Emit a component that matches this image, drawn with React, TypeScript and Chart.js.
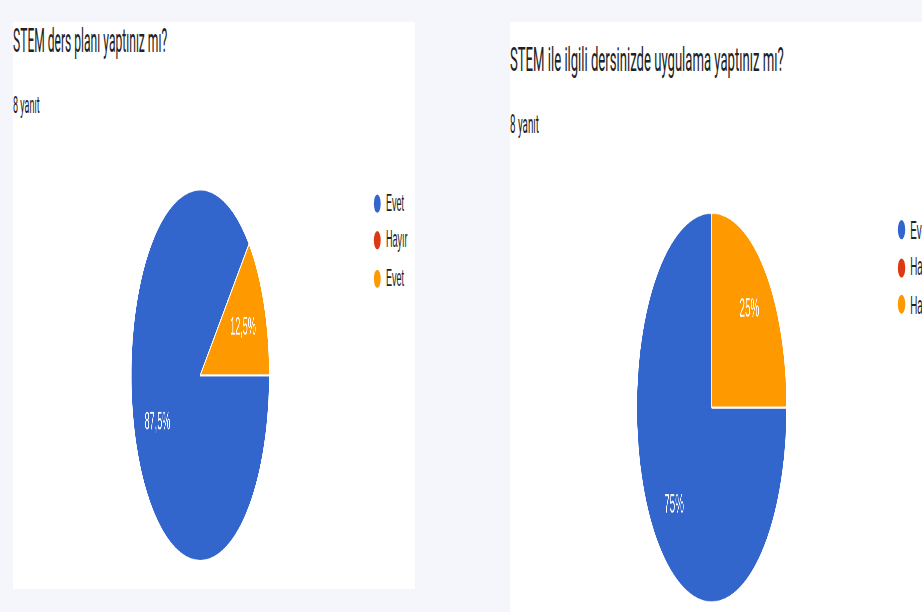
import React, { useEffect, useRef } from "react";
import { Chart, registerables } from "chart.js";

Chart.register(...registerables);

// ---- data ----
const leftTitle = "STEM ders planı yaptınız mı?";
const leftCount = "8 yanıt";
const leftLabels = ["Evet", "Hayır", "Evet"];
const leftValues = [7, 0, 1];

const rightTitle = "STEM ile ilgili dersinizde uygulama yaptınız mı?";
const rightCount = "8 yanıt";
const rightLabels = ["Evet", "Hayır", "Hayır"];
const rightValues = [6, 0, 2];

const sliceColors = ["#3366cc", "#dc3912", "#ff9900"];

const pieLabelPlugin = {
  id: "pieLabels",
  afterDatasetsDraw(chart: any, _args: any, opts: any) {
    const meta = chart.getDatasetMeta(0);
    const data = chart.data.datasets[0].data as number[];
    const total = data.reduce((a, b) => a + b, 0);
    const ctx = chart.ctx;
    ctx.save();
    ctx.font = '12px "Liberation Sans", Arial, sans-serif';
    ctx.fillStyle = "#ffffff";
    ctx.textAlign = "center";
    ctx.textBaseline = "middle";
    meta.data.forEach((arc: any, i: number) => {
      const v = data[i];
      if (!v) return;
      const p = arc.getProps(["x", "y", "startAngle", "endAngle", "outerRadius"], true);
      const mid = (p.startAngle + p.endAngle) / 2;
      const r = p.outerRadius * (opts.factor ?? 0.67);
      const pct = Math.round((v / total) * 1000) / 10;
      const txt = String(pct).replace(".", ",") + "%";
      ctx.fillText(txt, p.x + Math.cos(mid) * r, p.y + Math.sin(mid) * r);
    });
    ctx.restore();
  },
};

type PanelProps = {
  title: string;
  count: string;
  labels: string[];
  values: number[];
  left: number;
  top: number;
  width: number;
  height: number;
  sx: number;
  sy: number;
  cx: number;
  cy: number;
  titleTop: number;
  countTop: number;
  legendDotX: number;
  legendTextX: number;
  legendY: number[];
  labelFactor: number;
};

function PiePanel(p: PanelProps) {
  const ref = useRef<HTMLCanvasElement | null>(null);
  useEffect(() => {
    if (!ref.current) return;
    const chart = new Chart(ref.current, {
      type: "pie",
      data: {
        labels: p.labels,
        datasets: [
          {
            data: p.values,
            backgroundColor: sliceColors,
            borderColor: "#ffffff",
            borderWidth: 1,
            hoverOffset: 0,
            offset: 0,
          },
        ],
      },
      options: {
        responsive: false,
        animation: false,
        devicePixelRatio: 3,
        rotation: 90,
        layout: { padding: 8 },
        plugins: {
          legend: { display: false },
          tooltip: { enabled: false },
          pieLabels: { factor: p.labelFactor },
        } as any,
      },
      plugins: [pieLabelPlugin],
    });
    return () => chart.destroy();
  }, []);

  const textFont = '"Liberation Sans", Arial, sans-serif';
  return (
    <div
      style={{
        position: "absolute",
        left: p.left,
        top: p.top,
        width: p.width,
        height: p.height,
        background: "#ffffff",
        transform: `scale(${p.sx}, ${p.sy})`,
        transformOrigin: "0 0",
      }}
    >
      <div
        style={{
          position: "absolute",
          left: 0,
          top: p.titleTop,
          font: "16px Roboto, sans-serif",
          lineHeight: "16px",
          color: "#202124",
          whiteSpace: "nowrap",
        }}
      >
        {p.title}
      </div>
      <div
        style={{
          position: "absolute",
          left: 0,
          top: p.countTop,
          font: "12px Roboto, sans-serif",
          lineHeight: "12px",
          color: "#202124",
          whiteSpace: "nowrap",
        }}
      >
        {p.count}
      </div>
      <canvas
        ref={ref}
        width={200}
        height={200}
        style={{ position: "absolute", left: p.cx - 100, top: p.cy - 100, width: 200, height: 200 }}
      />
      {p.labels.map((lab, i) => (
        <React.Fragment key={i}>
          <div
            style={{
              position: "absolute",
              left: p.legendDotX - 4.5,
              top: p.legendY[i] - 4.5,
              width: 9,
              height: 9,
              borderRadius: "50%",
              background: sliceColors[i],
            }}
          />
          <div
            style={{
              position: "absolute",
              left: p.legendTextX,
              top: p.legendY[i] - 6,
              font: `12px ${textFont}`,
              lineHeight: "12px",
              color: "#222222",
              whiteSpace: "nowrap",
            }}
          >
            {lab}
          </div>
        </React.Fragment>
      ))}
    </div>
  );
}

export default function App() {
  return (
    <div
      style={{
        position: "fixed",
        left: 0,
        top: 0,
        width: 922,
        height: 612,
        overflow: "hidden",
        background: "#f4f6fb",
      }}
    >
      <PiePanel
        title={leftTitle}
        count={leftCount}
        labels={leftLabels}
        values={leftValues}
        left={13}
        top={22}
        width={532}
        height={279}
        sx={0.755}
        sy={2.03}
        cx={248.3}
        cy={173.8}
        titleTop={2.2}
        countTop={35}
        legendDotX={482}
        legendTextX={494}
        legendY={[89, 107, 126]}
        labelFactor={0.67}
      />
      <PiePanel
        title={rightTitle}
        count={rightCount}
        labels={rightLabels}
        values={rightValues}
        left={510}
        top={22}
        width={560}
        height={300}
        sx={0.82}
        sy={2.13}
        cx={246.3}
        cy={181.2}
        titleTop={9.6}
        countTop={41.5}
        legendDotX={477}
        legendTextX={488}
        legendY={[97.7, 115.3, 132.9]}
        labelFactor={0.71}
      />
    </div>
  );
}
